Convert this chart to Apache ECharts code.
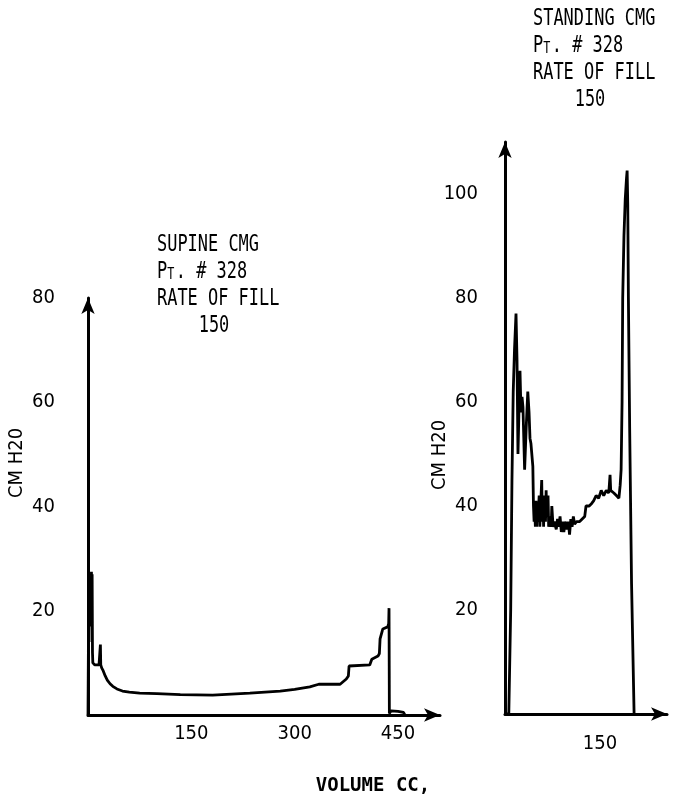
<!DOCTYPE html>
<html>
<head>
<meta charset="utf-8">
<script src="https://cdn.jsdelivr.net/npm/echarts@6/dist/echarts.min.js"></script>
<style>
html,body{margin:0;padding:0;background:#fff;}
#chart{width:673px;height:802px;}
</style>
</head>
<body>
<div id="chart"></div>
<script>
// ---------- data ----------
const supineTitle = ['SUPINE CMG', 'RATE OF FILL', '150'];
const standingTitle = ['STANDING CMG', 'RATE OF FILL', '150'];
const patientLabel = ['P', 'T', '. # 328'];
const yAxisName = 'CM H20';
const xAxisName = 'VOLUME CC,';
const supineYTicks = [20, 40, 60, 80];
const standingYTicks = [20, 40, 60, 80, 100];
const supineXTicks = [150, 300, 450];
const standingXTicks = [150];

// supine trace: [volume cc, cm H2O]
const supineCurve = [
  [0,0],[1,22],[1.5,14],[2,24],[2.5,17],[3,26],[3.5,19],[4,25],[4.5,18],[5,27.5],[5.5,21],[6,27],
  [6.5,12],[7,10],[8,9.8],[10,9.6],[13,9.6],[16,9.6],[17,9.8],[18,13.5],[18.5,9.6],[19,9.4],
  [20,9],[22,8.5],[25,7.5],[28,6.7],[32,6],[36,5.5],[42,5],[50,4.6],[60,4.4],[75,4.2],
  [100,4.1],[134,3.9],[181,3.8],[235,4.2],[279,4.6],[300,4.9],[322,5.4],[335,5.9],[366,5.9],
  [375,6.9],[378,7.5],[379,9.4],[409,9.6],[412,10.7],[421,11.3],[423,11.8],[424,14.6],
  [428,16.5],[435,16.9],[436.5,17.5],[437,20.5],[437.5,0.3],[440,0.8],[450,0.7],[458,0.5],[460,0]
];

// standing trace: [volume cc, cm H2O]
const standingCurve = [
  [0,0],[6,0],[9,20],[11,45],[13,62],[15,70],[17.4,77],[19,68],[20.5,50],[22,58],[23.7,66],
  [25.3,58],[26.9,61],[28.4,59],[31,47],[33.5,55],[36,62],[38,58],[39.5,53],[41,52],[44,47.6],
  [45,40],[46,37],[47,39],[48,36],[49,41],[50,36],[51,40],[52,37],[54,42],[55,36],[56,39],
  [58,45],[59,37],[60,41],[61,36],[62,42],[64,37],[65,43],[66,38],[68,42],[69,36],[71,38],
  [73,36],[74,40],[76,36],[78,37],[81,35.5],[83,37.5],[85,36],[87,38],[89,35],[91,37],[93,35],
  [95,37],[98,35.5],[100,37],[102,34.5],[104,37.5],[106,36],[108,38],[110,36.5],[113,37],
  [118,37],[122,37.5],[126,38],[128,40],[133,40],[137,40.5],[140,41],[144,42],[148,41.5],
  [152,43],[156,42],[160,43],[164,42.5],[166,46],[167,43],[172,42.5],[176,42],[180,41.5],
  [182,44],[183.5,47],[185,60],[186,80],[188,92],[190,99],[192,103],[193,104.5],[194,98],
  [195,80],[197,55],[200,25],[204,0]
];

// ---------- fonts ----------
const FONT = '"DejaVu Sans Condensed", "Liberation Sans Narrow", "Liberation Sans", sans-serif';
const MONO = '"DejaVu Sans Mono", "Liberation Mono", monospace';
const titleSize = 23;
const tickSize = 20;
const smallT = 16;
const ctx = document.createElement('canvas').getContext('2d');
ctx.font = titleSize + 'px ' + MONO;
// typewriter pitch of the original: about 10.2 px per character
const titleScale = Math.min(1, 10.2 / ctx.measureText('M').width);

// ---------- chart ----------
const chart = echarts.init(document.getElementById('chart'), null, {renderer: 'canvas'});

function yAxisFor(gridIndex, max, ticks, margin) {
  return {
    type: 'value', gridIndex: gridIndex, min: 0, max: max, interval: 20,
    axisLine: {show: true, lineStyle: {color: '#000', width: 3}, symbol: ['none', 'arrow'], symbolSize: [10, 16]},
    axisTick: {show: false},
    splitLine: {show: false},
    axisLabel: {
      show: true, margin: margin, color: '#000', fontFamily: FONT, fontSize: tickSize,
      showMaxLabel: ticks.indexOf(max) >= 0,
      formatter: v => ticks.indexOf(v) >= 0 ? String(v) : ''
    }
  };
}
function xAxisFor(gridIndex, max, ticks, margin) {
  return {
    type: 'value', gridIndex: gridIndex, min: 0, max: max, interval: 150,
    axisLine: {show: true, onZero: false, lineStyle: {color: '#000', width: 3}, symbol: ['none', 'arrow'], symbolSize: [10, 16]},
    axisTick: {show: false},
    splitLine: {show: false},
    axisLabel: {
      show: true, margin: margin, color: '#000', fontFamily: FONT, fontSize: tickSize,
      showMaxLabel: false,
      formatter: v => ticks.indexOf(v) >= 0 ? String(v) : ''
    }
  };
}

function titleText(x, y, text, align) {
  return {type: 'text', x: x, y: y, scaleX: titleScale, style: {text: text, fill: '#000', fontFamily: MONO, fontSize: titleSize, align: align, verticalAlign: 'middle'}};
}
function titleBlock(x, y, lines, centerX) {
  return [
    titleText(x, y, lines[0], 'left'),
    {type: 'text', x: x, y: y + 27, scaleX: titleScale, style: {
      text: '{p|' + patientLabel[0] + '}{t|' + patientLabel[1] + '}{p|' + patientLabel[2] + '}',
      fill: '#000', align: 'left', verticalAlign: 'middle',
      rich: {
        p: {fontFamily: MONO, fontSize: titleSize, lineHeight: titleSize, verticalAlign: 'bottom', fill: '#000'},
        t: {fontFamily: MONO, fontSize: smallT, lineHeight: smallT, verticalAlign: 'bottom', fill: '#000', padding: [0, 2, 1, 0]}
      }
    }},
    titleText(x, y + 54, lines[1], 'left'),
    titleText(centerX, y + 81, lines[2], 'center')
  ];
}

const graphics = []
  .concat(titleBlock(157, 245, supineTitle, 214))
  .concat(titleBlock(533, 19, standingTitle, 590))
  .concat([
    {type: 'text', x: 17, y: 463, rotation: Math.PI / 2, style: {text: yAxisName, fill: '#000', fontFamily: FONT, fontSize: tickSize, align: 'center', verticalAlign: 'middle'}},
    {type: 'text', x: 440, y: 455, rotation: Math.PI / 2, style: {text: yAxisName, fill: '#000', fontFamily: FONT, fontSize: tickSize, align: 'center', verticalAlign: 'middle'}},
    {type: 'text', x: 373, y: 786, style: {text: xAxisName, fill: '#000', fontFamily: MONO, fontSize: 19, fontWeight: 'bold', align: 'center', verticalAlign: 'middle'}}
  ]);

chart.setOption({
  backgroundColor: '#fff',
  animation: false,
  grid: [
    {left: 88, top: 298, width: 352, height: 417, outerBoundsMode: 'none', containLabel: false},
    {left: 505, top: 142, width: 162, height: 572, outerBoundsMode: 'none', containLabel: false}
  ],
  xAxis: [xAxisFor(0, 511, supineXTicks, 9), xAxisFor(1, 256, standingXTicks, 20)],
  yAxis: [yAxisFor(0, 80, supineYTicks, 33), yAxisFor(1, 110, standingYTicks, 27)],
  series: [
    {type: 'line', xAxisIndex: 0, yAxisIndex: 0, data: supineCurve, showSymbol: false, symbol: 'none',
     lineStyle: {color: '#000', width: 2.8}, clip: false},
    {type: 'line', xAxisIndex: 1, yAxisIndex: 1, data: standingCurve, showSymbol: false, symbol: 'none',
     lineStyle: {color: '#000', width: 2.8}, clip: false}
  ],
  graphic: graphics
});
</script>
</body>
</html>
